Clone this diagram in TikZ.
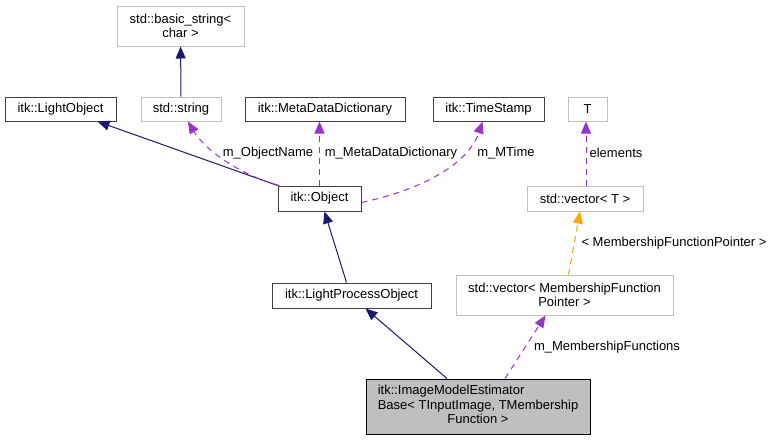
\documentclass[tikz,border=0pt]{standalone}
\usepackage{fontspec}
\setmainfont{Liberation Sans}
\usetikzlibrary{arrows.meta}
\definecolor{navy}{HTML}{191970}
\definecolor{purp}{HTML}{9A32CD}
\definecolor{orng}{HTML}{FFA500}
\definecolor{boxgray}{HTML}{BFBFBF}
\definecolor{boxdark}{HTML}{404040}
\tikzset{
  every node/.style={font=\fontsize{13}{14.5}\selectfont, inner sep=0pt},
  cls/.style={draw=boxdark, line width=1pt, fill=white, align=center},
  ext/.style={draw=boxgray, line width=1pt, fill=white, align=center},
  cur/.style={draw=black, line width=1pt, fill=boxgray},
  inh/.style={draw=navy, line width=1pt, -{Triangle[length=12pt,width=10pt]}},
  usage/.style={draw=purp, line width=1pt, dash pattern=on 6pt off 5pt, -{Triangle[length=12pt,width=10pt]}},
  tmpl/.style={draw=orng, line width=1pt, dash pattern=on 6pt off 5pt, -{Triangle[length=12pt,width=10pt]}},
  lbl/.style={fill=none}
}
\begin{document}
\begin{tikzpicture}[x=1pt,y=-1pt]
\useasboundingbox (0,0) rectangle (773,440);
% nodes
\node[ext, minimum width=127pt, minimum height=40pt] (bs) at (180.5,26) {std::basic\_string<\\char >};
\node[ext, minimum width=80pt, minimum height=24pt] (str) at (181,109) {std::string};
\node[cls, minimum width=111pt, minimum height=24pt] (lo) at (60.5,109) {itk::LightObject};
\node[cls, minimum width=160pt, minimum height=24pt] (mdd) at (325,109) {itk::MetaDataDictionary};
\node[cls, minimum width=111pt, minimum height=24pt] (ts) at (488.5,109) {itk::TimeStamp};
\node[ext, minimum width=39pt, minimum height=24pt] (T) at (587.5,109) {T};
\node[ext, minimum width=116pt, minimum height=25pt] (vecT) at (585,198.5) {std::vector< T >};
\node[cls, minimum width=83pt, minimum height=25pt] (obj) at (319.5,198.5) {itk::Object};
\node[cls, minimum width=159pt, minimum height=25pt] (lpo) at (351.5,295.5) {itk::LightProcessObject};
\node[ext, minimum width=217pt, minimum height=40pt] (vmf) at (564.5,295) {std::vector< MembershipFunction\\Pointer >};
\node[cur, minimum width=224pt, minimum height=55pt] (imeb) at (478,406.5) {\begin{tabular}{@{}l@{}}itk::ImageModelEstimator\\Base< TInputImage, TMembership\\\multicolumn{1}{@{}c@{}}{Function >}\end{tabular}};
% edges
\draw[inh] (str) -- (bs);
\draw[inh] (obj.north west) -- ([xshift=37pt]lo.south);
\draw[usage] ([xshift=2pt]obj.north west) .. controls (240,175) and (205,150) .. ([xshift=7pt]str.south);
\draw[usage] ([xshift=0pt]obj.north) -- ([xshift=-5.5pt]mdd.south);
\draw[usage] ([yshift=-4pt]obj.east) .. controls (420,190) and (468,165) .. ([xshift=-6pt]ts.south);
\draw[usage] ([xshift=1pt]vecT.north) -- ([xshift=-1.5pt]T.south);
\draw[tmpl] ([xshift=4pt]vmf.north) -- ([xshift=-5pt]vecT.south);
\draw[inh] ([xshift=-31pt]imeb.north) -- ([xshift=14pt]lpo.south);
\draw[usage] ([xshift=27pt]imeb.north) -- ([xshift=-19pt]vmf.south);
\draw[inh] ([xshift=-5pt]lpo.north) -- ([xshift=5pt]obj.south);
% labels
\node[lbl] (l1) at (268,153) {m\_ObjectName};
\node[lbl] (l2) at (391,153) {m\_MetaDataDictionary};
\node[lbl] (l3) at (506,153) {m\_MTime};
\node[lbl] (l4) at (616,153) {elements};
\node[lbl] (l5) at (674,243) {< MembershipFunctionPointer >};
\node[lbl] (l6) at (607,347) {m\_MembershipFunctions};
\end{tikzpicture}
\end{document}
